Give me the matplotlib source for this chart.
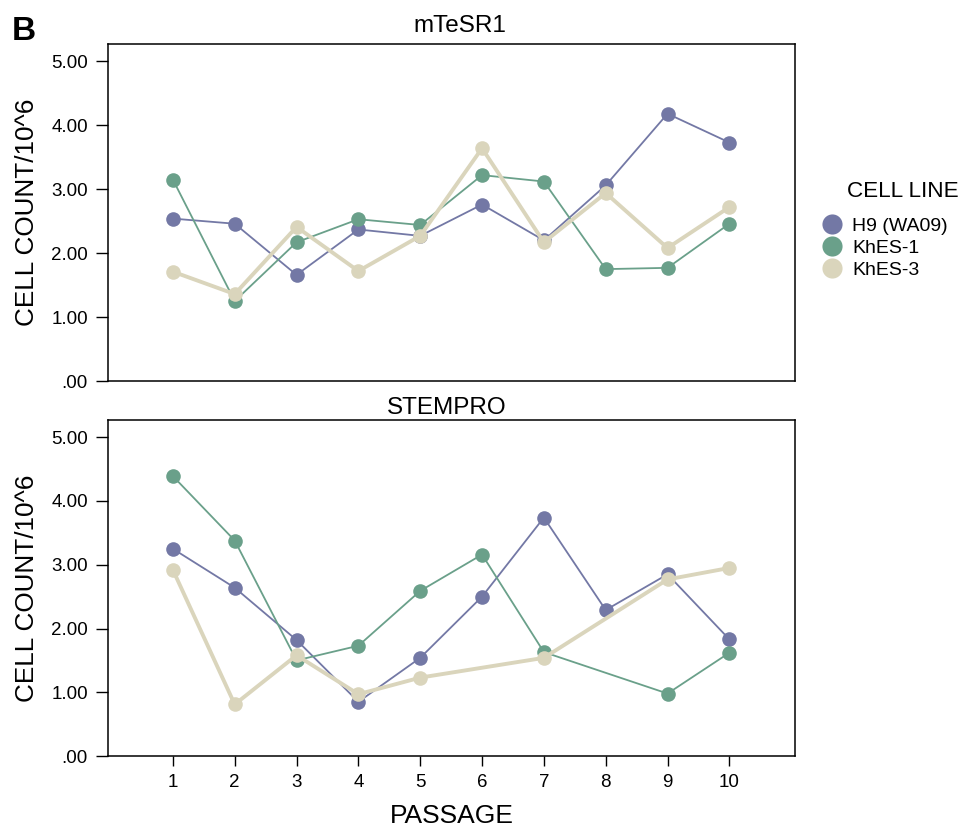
import matplotlib.pyplot as plt
import numpy as np
from matplotlib.lines import Line2D

plt.rcParams['font.family'] = ['Liberation Sans', 'DejaVu Sans']

passage = [1, 2, 3, 4, 5, 6, 7, 8, 9, 10]
cell_lines = ['H9 (WA09)', 'KhES-1', 'KhES-3']
colors = ['#7378a5', '#6aa08a', '#dad5bc']
widths = [1.3, 1.3, 2.8]

# mTeSR1 medium
mtesr_h9 = [2.54, 2.46, 1.66, 2.37, 2.27, 2.76, 2.20, 3.06, 4.18, 3.73]
mtesr_khes1 = [3.15, 1.25, 2.17, 2.53, 2.44, 3.22, 3.12, 1.75, 1.77, 2.46]
mtesr_khes3 = [1.71, 1.36, 2.41, 1.72, 2.27, 3.64, 2.17, 2.94, 2.08, 2.72]

# StemPro medium (nan = no measurement at that passage)
stem_h9 = [3.25, 2.64, 1.82, 0.85, 1.54, 2.50, 3.74, 2.29, 2.85, 1.83]
stem_khes1 = [4.39, 3.38, 1.50, 1.73, 2.59, 3.16, 1.63, np.nan, 0.98, 1.62]
stem_khes3 = [2.92, 0.81, 1.58, 0.97, 1.23, np.nan, 1.54, np.nan, 2.77, 2.95]

yticks = [0, 1, 2, 3, 4, 5]
ytick_labels = ['.00', '1.00', '2.00', '3.00', '4.00', '5.00']


def draw_panel(ax, series, title, pad, tx):
    x = np.array(passage)
    for vals, c, lw in zip(series, colors, widths):
        v = np.array(vals, dtype=float)
        ok = ~np.isnan(v)
        ax.plot(x[ok], v[ok], '-o', color=c, lw=lw, ms=10.5, mec='none')
    ax.set_xlim(-0.05, 11.06)
    ax.set_ylim(0, 5.27)
    ax.set_yticks(yticks)
    ax.set_yticklabels(ytick_labels, fontsize=13.5)
    ax.set_ylabel('CELL COUNT/10^6', fontsize=18.8, labelpad=9)
    ax.set_title(title, fontsize=17.5, pad=pad, x=tx)
    ax.tick_params(axis='y', direction='out', length=8.5, width=1, pad=6)
    for s in ax.spines.values():
        s.set_linewidth(1.1)


fig = plt.figure(figsize=(9.7, 8.26), dpi=100)
ax1 = fig.add_axes([0.1113, 0.5387, 0.7082, 0.408])
ax2 = fig.add_axes([0.1113, 0.0847, 0.7082, 0.4068])

draw_panel(ax1, [mtesr_h9, mtesr_khes1, mtesr_khes3], 'mTeSR1', 9, 0.512)
draw_panel(ax2, [stem_h9, stem_khes1, stem_khes3], 'STEMPRO', 4, 0.493)

ax1.set_xticks([])
ax2.set_xticks(passage)
ax2.set_xticklabels([str(p) for p in passage], fontsize=13.5)
ax2.tick_params(axis='x', direction='out', length=7, width=1, pad=6)
ax2.set_xlabel('PASSAGE', fontsize=19, labelpad=9)

handles = [Line2D([], [], ls='none', marker='o', ms=14.5, color=c, mec='none')
           for c in colors]
fig.legend(handles, cell_lines, loc='upper left',
           bbox_to_anchor=(820 / 970, 0.737), frameon=False, fontsize=14,
           handletextpad=0.45, labelspacing=0.23, handlelength=1.2,
           borderpad=0, borderaxespad=0)
fig.text(847 / 970, 1 - 197 / 826, 'CELL LINE', fontsize=16.2)

fig.text(0.012, 0.952, 'B', fontsize=24, fontweight='bold')

fig.savefig('out.png', dpi=100)
